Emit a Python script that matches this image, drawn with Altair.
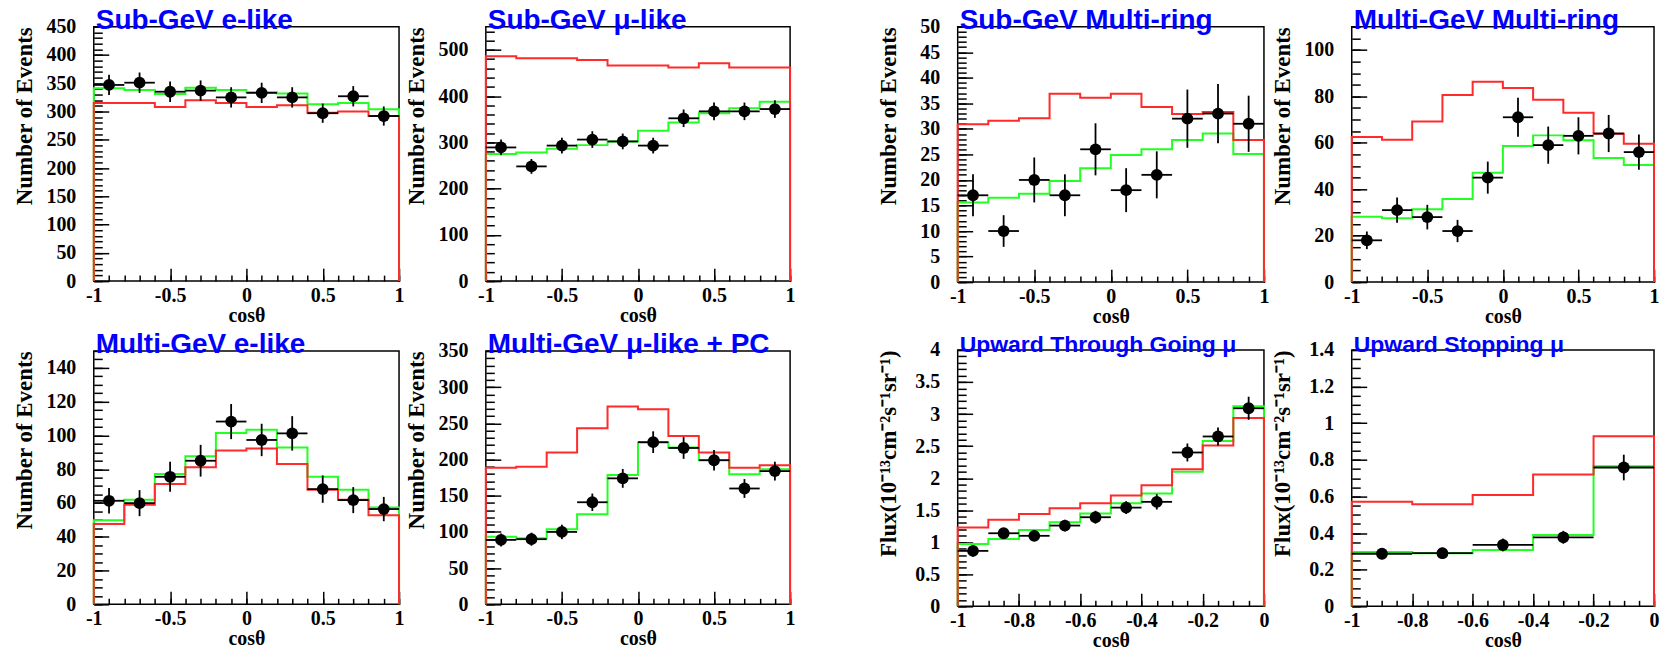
import altair as alt
import numpy as np
import pandas as pd

SERIF = "Liberation Serif"
SANS = "Liberation Sans"
RED = "#ff2a2a"
GREEN = "#22ff22"
BLUE = "#0000ff"

# ---------------- data ----------------
edges_full = [-1.0, -0.8, -0.6, -0.4, -0.2, 0.0, 0.2, 0.4, 0.6, 0.8, 1.0]
edges_thru = [-1.0, -0.9, -0.8, -0.7, -0.6, -0.5, -0.4, -0.3, -0.2, -0.1, 0.0]
edges_stop = [-1.0, -0.8, -0.6, -0.4, -0.2, 0.0]

sub_e_data = [347, 351, 335, 337, 325, 333, 325, 297, 327, 292]
sub_e_err = [18, 18, 18, 18, 18, 18, 18, 17, 18, 17]
sub_e_fit = [341, 338, 331, 342, 338, 334, 332, 313, 315, 304]
sub_e_null = [315, 315, 308, 320, 315, 308, 311, 298, 300, 292]

sub_mu_data = [289, 248, 293, 306, 302, 293, 352, 367, 367, 372]
sub_mu_err = [17, 16, 17, 18, 17, 17, 19, 19, 19, 19]
sub_mu_fit = [275, 278, 286, 294, 302, 325, 343, 363, 374, 388]
sub_mu_null = [486, 482, 482, 478, 466, 466, 462, 471, 462, 462]

sub_mr_data = [17, 10, 20, 17, 26, 18, 21, 32, 33, 31]
sub_mr_err = [4.1, 3.1, 4.4, 4.1, 5.1, 4.3, 4.6, 5.7, 5.8, 5.5]
sub_mr_fit = [15.6, 16.5, 17.3, 19.8, 22.3, 24.9, 26.0, 27.8, 29.1, 25.1]
sub_mr_null = [30.9, 31.6, 32.1, 36.9, 36.1, 36.9, 34.3, 32.9, 33.3, 27.8]

mul_mr_data = [18, 31, 28, 22, 45, 71, 59, 63, 64, 56]
mul_mr_err = [3.8, 5.4, 5.3, 4.8, 6.9, 8.4, 8.0, 8.0, 8.0, 7.6]
mul_mr_fit = [28.2, 27.5, 31.4, 35.8, 47.1, 58.6, 63.2, 61.1, 53.5, 50.4]
mul_mr_null = [62.5, 61.3, 69.2, 80.6, 86.3, 83.6, 78.5, 72.9, 63.9, 59.6]

mul_e_data = [61.3, 59.9, 75.5, 85.0, 108.2, 97.3, 101.2, 68.2, 61.7, 56.4]
mul_e_err = [7.6, 7.7, 8.9, 9.4, 10.4, 9.6, 10.2, 8.1, 7.7, 7.2]
mul_e_fit = [49.8, 61.9, 77.1, 87.6, 101.4, 103.4, 92.9, 75.5, 67.8, 57.3]
mul_e_null = [47.5, 58.9, 71.2, 81.1, 91.0, 92.3, 83.1, 67.8, 61.9, 52.8]

mul_mu_data = [89, 90, 100, 141, 174, 224, 216, 199, 160, 184]
mul_mu_err = [9, 9, 10, 12, 13, 15, 15, 14, 13, 13]
mul_mu_fit = [93.5, 91.2, 103.6, 124.4, 178.7, 223.4, 216.5, 199.4, 179.6, 186.5]
mul_mu_null = [188.8, 190.2, 209.6, 243.2, 273.1, 269.5, 232.6, 209.6, 188.8, 192.1]

thru_data = [0.865, 1.14, 1.10, 1.26, 1.39, 1.54, 1.63, 2.40, 2.65, 3.09]
thru_err = [0.09, 0.08, 0.08, 0.09, 0.10, 0.10, 0.12, 0.14, 0.14, 0.18]
thru_fit = [0.974, 1.05, 1.19, 1.31, 1.45, 1.61, 1.76, 2.10, 2.58, 3.12]
thru_null = [1.23, 1.35, 1.44, 1.53, 1.61, 1.73, 1.89, 2.14, 2.51, 2.94]

stop_data = [0.287, 0.29, 0.335, 0.377, 0.758]
stop_err = [0.03, 0.03, 0.035, 0.035, 0.07]
stop_fit = [0.296, 0.29, 0.308, 0.39, 0.765]
stop_null = [0.571, 0.557, 0.608, 0.72, 0.929]

EVENTS = "Number of Events"
FLUX = "Flux(10\u207b\u00b9\u00b3cm\u207b\u00b2s\u207b\u00b9sr\u207b\u00b9)"


def ticks(lo, hi, step):
    n = int(round((hi - lo) / step))
    return [round(lo + i * step, 6) for i in range(n + 1)]


def steps(edges, vals):
    xs = [edges[0]] + list(edges[:-1]) + [edges[-1], edges[-1]]
    ys = [0] + list(vals) + [vals[-1], 0]
    return pd.DataFrame({"x": xs, "y": ys, "i": list(range(len(xs)))})


def panel(title, tsize, edges, data, err, fit, null, ydom, ymaj_step, ymin_step,
          xmaj_step, xmin_step, ytitle, W, H):
    lo = edges[:-1]
    hi = edges[1:]
    mid = [(a + b) / 2 for a, b in zip(lo, hi)]
    pts = pd.DataFrame({"lo": lo, "hi": hi, "mid": mid, "val": data, "err": err})
    pts["ylo"] = pts["val"] - pts["err"]
    pts["yhi"] = pts["val"] + pts["err"]

    xsc = alt.Scale(domain=[edges[0], edges[-1]], nice=False, zero=False)
    ysc = alt.Scale(domain=ydom, nice=False, zero=False)

    ymaj = ticks(ydom[0], ydom[1], ymaj_step)
    ymaj = [v for v in ymaj if v <= ydom[1] + 1e-9]
    ymin = ticks(ydom[0], ydom[1], ymin_step)
    xmaj = ticks(edges[0], edges[-1], xmaj_step)
    xmin = ticks(edges[0], edges[-1], xmin_step)

    x_lab_axis = alt.Axis(orient="bottom", values=xmaj, ticks=False, domain=False, grid=False,
                          labelExpr="'' + datum.value", labelFont=SERIF, labelFontWeight="bold",
                          labelFontSize=20, labelColor="black", labelPadding=4,
                          labelOverlap=False, labelFlush=False, labelBound=False,
                          title="cos\u03b8", titleFont=SERIF, titleFontWeight="bold",
                          titleFontSize=20, titleColor="black", titlePadding=0,
                          minExtent=24, maxExtent=24)
    y_lab_axis = alt.Axis(orient="left", values=ymaj, ticks=False, domain=False, grid=False,
                          labelExpr="'' + datum.value", labelFont=SERIF, labelFontWeight="bold",
                          labelFontSize=20, labelColor="black", labelPadding=18,
                          labelOverlap=False, labelFlush=False, labelBound=False,
                          title=ytitle, titleFont=SERIF, titleFontWeight="bold",
                          titleFontSize=23, titleColor="black", titleAngle=270,
                          titleX=-69, titleY=0, titleAlign="right", titleBaseline="middle",
                          minExtent=57, maxExtent=57)

    def tick_axis_x(vals, size):
        return alt.Axis(orient="top", offset=-H, values=vals, ticks=True, tickSize=size,
                        tickColor="black", tickWidth=1.5, labels=False, domain=False,
                        grid=False, title=None, minExtent=0, maxExtent=0)

    def tick_axis_y(vals, size):
        return alt.Axis(orient="right", offset=-W, values=vals, ticks=True, tickSize=size,
                        tickColor="black", tickWidth=1.5, labels=False, domain=False,
                        grid=False, title=None, minExtent=0, maxExtent=0)

    green = alt.Chart(steps(edges, fit)).mark_line(
        interpolate="step-after", color=GREEN, strokeWidth=2
    ).encode(x=alt.X("x:Q", scale=xsc, axis=None), y=alt.Y("y:Q", scale=ysc, axis=None),
             order="i:Q")
    red = alt.Chart(steps(edges, null)).mark_line(
        interpolate="step-after", color=RED, strokeWidth=2
    ).encode(x=alt.X("x:Q", scale=xsc, axis=x_lab_axis),
             y=alt.Y("y:Q", scale=ysc, axis=y_lab_axis), order="i:Q")

    base = alt.Chart(pts)
    hbar = base.mark_rule(color="black", strokeWidth=1.8).encode(
        x=alt.X("lo:Q", scale=xsc, axis=tick_axis_x(xmin, 6)), x2="hi:Q",
        y=alt.Y("val:Q", scale=ysc, axis=tick_axis_y(ymin, 8.5)))
    vbar = base.mark_rule(color="black", strokeWidth=1.8).encode(
        x=alt.X("mid:Q", scale=xsc, axis=tick_axis_x(xmaj, 13)),
        y=alt.Y("ylo:Q", scale=ysc, axis=tick_axis_y(ymaj, 15)), y2="yhi:Q")
    dots = base.mark_circle(color="black", opacity=1, size=140).encode(
        x=alt.X("mid:Q", scale=xsc, axis=None), y=alt.Y("val:Q", scale=ysc, axis=None))

    ttl = alt.Chart(pd.DataFrame({"t": [title]})).mark_text(
        align="left", baseline="alphabetic", font=SANS, fontWeight="bold",
        fontSize=tsize, color=BLUE
    ).encode(text="t:N", x=alt.value(2), y=alt.value(2))

    return alt.layer(green, red, hbar, vbar, dots, ttl).resolve_axis(
        x="independent", y="independent"
    ).properties(width=W, height=H)


p1 = panel("Sub-GeV e-like", 28, edges_full, sub_e_data, sub_e_err, sub_e_fit, sub_e_null,
           [0, 450], 50, 10, 0.5, 0.1, EVENTS, 306, 255)
p2 = panel("Sub-GeV \u03bc-like", 28, edges_full, sub_mu_data, sub_mu_err, sub_mu_fit,
           sub_mu_null, [0, 550], 100, 20, 0.5, 0.1, EVENTS, 305, 255)
p3 = panel("Sub-GeV Multi-ring", 28, edges_full, sub_mr_data, sub_mr_err, sub_mr_fit,
           sub_mr_null, [0, 50], 5, 1, 0.5, 0.1, EVENTS, 307, 256)
p4 = panel("Multi-GeV Multi-ring", 28, edges_full, mul_mr_data, mul_mr_err, mul_mr_fit,
           mul_mr_null, [0, 110], 20, 5, 0.5, 0.1, EVENTS, 303, 256)
p5 = panel("Multi-GeV e-like", 28, edges_full, mul_e_data, mul_e_err, mul_e_fit,
           mul_e_null, [0, 150], 20, 5, 0.5, 0.1, EVENTS, 306, 254)
p6 = panel("Multi-GeV \u03bc-like + PC", 28, edges_full, mul_mu_data, mul_mu_err,
           mul_mu_fit, mul_mu_null, [0, 350], 50, 10, 0.5, 0.1, EVENTS, 305, 254)
p7 = panel("Upward Through Going \u03bc", 23, edges_thru, thru_data, thru_err, thru_fit,
           thru_null, [0, 4], 0.5, 0.1, 0.2, 0.05, FLUX, 307, 257)
p8 = panel("Upward Stopping \u03bc", 23, edges_stop, stop_data, stop_err, stop_fit,
           stop_null, [0, 1.4], 0.2, 0.05, 0.2, 0.05, FLUX, 303, 257)

left = alt.vconcat(alt.hconcat(p1, p2, spacing=0), alt.hconcat(p5, p6, spacing=0), spacing=4)
right = alt.vconcat(alt.hconcat(p3, p4, spacing=1), alt.hconcat(p7, p8, spacing=1), spacing=6)

chart = alt.hconcat(left, right, spacing=81).properties(
    padding={"left": 13, "top": 5, "right": 0, "bottom": 0}, background="white"
).configure_view(stroke="black", strokeWidth=1.5)

chart.save("out.html", embed_options={"renderer": "svg", "actions": False})
